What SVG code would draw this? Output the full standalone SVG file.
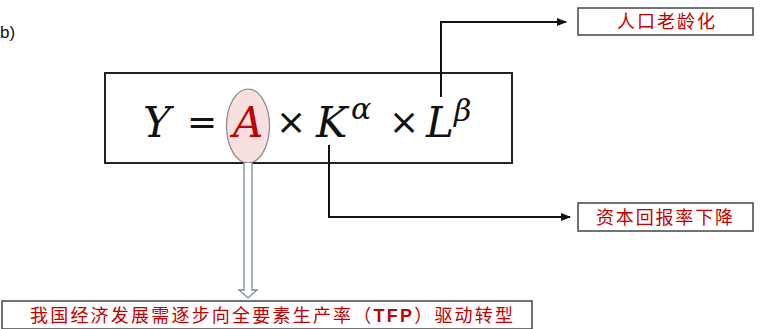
<svg xmlns="http://www.w3.org/2000/svg" width="761" height="329" viewBox="0 0 761 329">
<defs>
<style>
.box{fill:#fff;stroke:#222;stroke-width:2}
.lbl{fill:#fff;stroke:#444;stroke-width:1.5}
.cn{font-family:"Noto Sans CJK SC","Noto Sans CJK TC",sans-serif;fill:#c00000;font-size:18px}
.m{font-family:"DejaVu Serif","Liberation Serif",serif;font-style:italic;font-size:42px;fill:#111}
.g{font-family:"DejaVu Serif","Liberation Serif",serif;font-style:italic;font-size:30px;fill:#111}
.op{font-family:"DejaVu Sans","Liberation Sans",sans-serif;font-size:36px;fill:#111}
.con{fill:none;stroke:#111;stroke-width:2}
</style>
<marker id="ah" viewBox="0 0 10 10" refX="9" refY="5" markerWidth="5" markerHeight="5" orient="auto" markerUnits="strokeWidth">
<path d="M0,1 L10,5 L0,9 z" fill="#111"/>
</marker>
</defs>
<text x="0" y="38" font-family="Liberation Sans, sans-serif" font-size="17" fill="#111">b)</text>
<g id="formula">
<rect class="box" x="105" y="73" width="407" height="90"/>
<ellipse cx="248" cy="126" rx="21.5" ry="37" fill="#f8e0e0" stroke="#888" stroke-width="1.2"/>
<text class="m" x="143" y="137">Y</text>
<text class="op" x="187" y="134">=</text>
<text class="m" x="233" y="137" style="fill:#c00000">A</text>
<text class="op" x="276" y="134">×</text>
<text class="m" x="316" y="137">K</text>
<text class="g" x="351" y="119">α</text>
<text class="op" x="389" y="134">×</text>
<text class="m" x="426" y="137">L</text>
<text class="g" x="454" y="121">β</text>
</g>
<g id="aging">
<rect class="lbl" x="578" y="8" width="175" height="27"/>
<text class="cn" x="617" y="28" textLength="98" lengthAdjust="spacing">人口老龄化</text>
</g>
<g id="capital">
<rect class="lbl" x="578" y="203" width="175" height="28"/>
<text class="cn" x="596" y="224" textLength="137" lengthAdjust="spacing">资本回报率下降</text>
</g>
<g id="tfp">
<rect class="lbl" x="2" y="301" width="530" height="28"/>
<text class="cn" x="30" y="322" textLength="483" lengthAdjust="spacing">我国经济发展需逐步向全要素生产率（<tspan font-family="Liberation Sans, Arial, sans-serif" font-weight="bold">TFP</tspan>）驱动转型</text>
</g>
<g id="connectors">
<path class="con" d="M441,97 V22 H566" marker-end="url(#ah)"/>
<path class="con" d="M329,145 V217 H570" marker-end="url(#ah)"/>
<path d="M244,163 V290 H239 L248,298 L257,290 H252 V163" fill="#fff" stroke="#7a8a96" stroke-width="1.3"/>
</g>
</svg>
